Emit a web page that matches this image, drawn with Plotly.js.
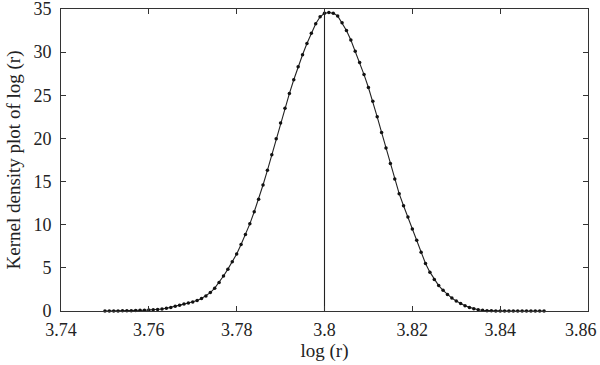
<!DOCTYPE html>
<html>
<head>
<meta charset="utf-8">
<script src="https://cdn.plot.ly/plotly-3.0.1.min.js"></script>
<style>html,body{margin:0;padding:0;background:#fff;}#chart{width:600px;height:365px;}</style>
</head>
<body>
<div id="chart"></div>
<script>
// x grid: 3.750 .. 3.850 step 0.001 (101 points)
const xStart = 3.750;
const xStep = 0.001;
const densityY = [
  0.00, 0.00, 0.01, 0.01, 0.02, 0.03, 0.04, 0.06, 0.08, 0.09,   // 3.750-3.759
  0.11, 0.14, 0.18, 0.24, 0.32, 0.42, 0.55, 0.68, 0.80, 0.93,   // 3.760-3.769
  1.05, 1.22, 1.45, 1.75, 2.13, 2.65, 3.30, 4.05, 4.85, 5.70,   // 3.770-3.779
  6.60, 7.70, 8.87, 10.1, 11.5, 12.94, 14.6, 16.3, 18.1, 19.95, // 3.780-3.789
  21.8, 23.5, 25.2, 26.8, 28.3, 29.7, 31.0, 32.2, 33.3, 34.1,   // 3.790-3.799
  34.5, 34.6, 34.5, 34.2, 33.4, 32.5, 31.4, 30.1, 28.8, 27.4,   // 3.800-3.809
  25.9, 24.3, 22.5, 20.7, 18.9, 17.1, 15.3, 13.6, 12.2, 10.9,   // 3.810-3.819
  9.5, 8.2, 6.8, 5.5, 4.5, 3.65, 2.95, 2.4, 1.9, 1.5,           // 3.820-3.829
  1.15, 0.87, 0.60, 0.42, 0.26, 0.14, 0.08, 0.04, 0.02, 0.01,   // 3.830-3.839
  0.01, 0.00, 0.00, 0.00, 0.00, 0.00, 0.00, 0.00, 0.00, 0.00,   // 3.840-3.849
  0.00                                                          // 3.850
];
const logR = densityY.map((_, i) => +(xStart + i * xStep).toFixed(3));

const vlineX = [3.8, 3.8];
const vlineY = [0, 34.8];

const xTicks = [3.74, 3.76, 3.78, 3.8, 3.82, 3.84, 3.86];
const xTickText = ["3.74", "3.76", "3.78", "3.8", "3.82", "3.84", ""];
const lastTickText = "3.86";   // drawn right-aligned at the plot edge so it stays inside the page
const yTicks = [0, 5, 10, 15, 20, 25, 30, 35];

const fontFam = "Liberation Serif, DejaVu Serif, serif";

const traces = [
  {
    x: logR, y: densityY, type: "scatter", mode: "lines+markers",
    line: {color: "#222", width: 1.1},
    marker: {color: "#111", size: 3.5},
    hoverinfo: "skip", showlegend: false, cliponaxis: false
  },
  {
    x: vlineX, y: vlineY, type: "scatter", mode: "lines",
    line: {color: "#222", width: 1.1},
    hoverinfo: "skip", showlegend: false
  }
];

const layout = {
  width: 600, height: 365,
  margin: {l: 61, r: 12, t: 9, b: 54},
  paper_bgcolor: "#fff", plot_bgcolor: "#fff",
  font: {family: fontFam, size: 18, color: "#222"},
  xaxis: {
    range: [3.74, 3.86], tickvals: xTicks, ticktext: xTickText,
    ticks: "inside", ticklen: 5, tickcolor: "#333", tickwidth: 1,
    showline: true, linecolor: "#333", linewidth: 1, mirror: "ticks",
    showgrid: false, zeroline: false,
    ticklabelstandoff: 2,
    tickfont: {family: fontFam, size: 18, color: "#222"},
    title: {text: "log (r)", font: {family: fontFam, size: 19, color: "#222"}, standoff: 4}
  },
  yaxis: {
    range: [0, 35], tickvals: yTicks,
    ticks: "inside", ticklen: 5, tickcolor: "#333", tickwidth: 1,
    showline: true, linecolor: "#333", linewidth: 1, mirror: "ticks",
    showgrid: false, zeroline: false, ticklabeloverflow: "allow",
    ticklabelstandoff: 5,
    tickfont: {family: fontFam, size: 18, color: "#222"},
    title: {text: "Kernel density plot of log (r)", font: {family: fontFam, size: 19, color: "#222"}, standoff: 7}
  },
  annotations: [{
    x: xTicks[xTicks.length - 1], xref: "x", y: 0, yref: "paper",
    text: lastTickText, showarrow: false,
    xanchor: "right", yanchor: "top", xshift: 11, yshift: -7,
    font: {family: fontFam, size: 18, color: "#222"}
  }]
};

Plotly.newPlot("chart", traces, layout, {staticPlot: true, displayModeBar: false});
</script>
</body>
</html>
